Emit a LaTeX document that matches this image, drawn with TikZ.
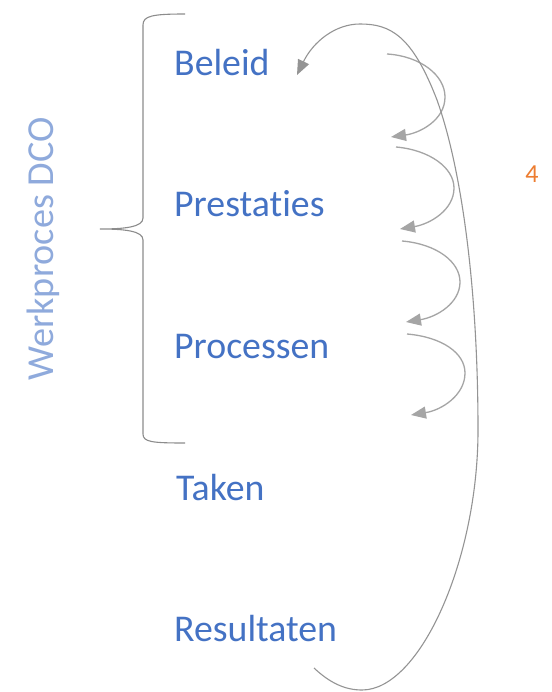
\documentclass[tikz,border=0pt]{standalone}
\usepackage{fontspec}
\setmainfont{Carlito}[Ligatures=NoCommon]
\usetikzlibrary{arrows.meta}
\definecolor{txtblue}{HTML}{4472C4}
\definecolor{lightblue}{HTML}{8FAADC}
\definecolor{orng}{HTML}{ED7D31}
\definecolor{lgray}{HTML}{A5A5A5}
\begin{document}
\begin{tikzpicture}[x=1pt,y=-1pt,
  lbl/.style={anchor=base west,inner sep=0pt,text=txtblue,font=\fontsize{37.8}{44}\selectfont},
  brace/.style={draw=lgray!85!black,line width=1.1pt},
  flow/.style={draw=lgray,line width=1.3pt,-{Triangle[length=15pt,width=12pt]}},
  bigflow/.style={draw=lgray!90!black,line width=1.1pt,-{Triangle[length=15pt,width=12pt]}}]
\useasboundingbox[fill=white] (0,0) rectangle (551,692);
% labels
\node[lbl] (beleid) at (174,76) {Beleid};
\node[lbl] (prest) at (174,217) {Prestaties};
\node[lbl] (proc) at (174,358) {Processen};
\node[lbl] (taken) at (176,500) {Taken};
\node[lbl] (result) at (174,641) {Resultaten};
\node[rotate=90,anchor=base,inner sep=0pt,text=lightblue,font=\fontsize{38.2}{44}\selectfont] (werk) at (53,249) {Werkproces DCO};
\node[anchor=base,inner sep=0pt,text=orng,font=\fontsize{26}{31}\selectfont] (four) at (532,183) {4};
% brace
\draw[brace] (185,14) .. controls (152,14) and (143,16) .. (143,25) -- (143,218)
  .. controls (143,227) and (125,229) .. (100,229)
  .. controls (125,229) and (143,231) .. (143,240) -- (143,434)
  .. controls (143,442) and (152,443) .. (185,443);
% small arrows
\coordinate (a1s) at (387,54); \coordinate (a1e) at (391,137);
\coordinate (a2s) at (396,147); \coordinate (a2e) at (400,229);
\coordinate (a3s) at (402,241); \coordinate (a3e) at (406,322);
\coordinate (a4s) at (407,334); \coordinate (a4e) at (411,415);
\draw[flow] (a1s) .. controls (420,56) and (445,75) .. (445,97) .. controls (445,120) and (420,133) .. (a1e);
\draw[flow] (a2s) .. controls (430,150) and (454,168) .. (454,188) .. controls (454,210) and (430,224) .. (a2e);
\draw[flow] (a3s) .. controls (437,244) and (460,262) .. (460,282) .. controls (460,303) and (437,317) .. (a3e);
\draw[flow] (a4s) .. controls (442,337) and (465,353) .. (465,373) .. controls (465,395) and (442,410) .. (a4e);
% big return arrow
\coordinate (bs) at (314,668); \coordinate (be) at (297,75);
\draw[bigflow] (bs) .. controls (330,683) and (345,690) .. (362,690)
  .. controls (420,690) and (478,560) .. (478,430)
  .. controls (478,290) and (462,170) .. (437,100)
  .. controls (412,35) and (390,24) .. (360,24)
  .. controls (335,24) and (313,42) .. (be);
\end{tikzpicture}
\end{document}
